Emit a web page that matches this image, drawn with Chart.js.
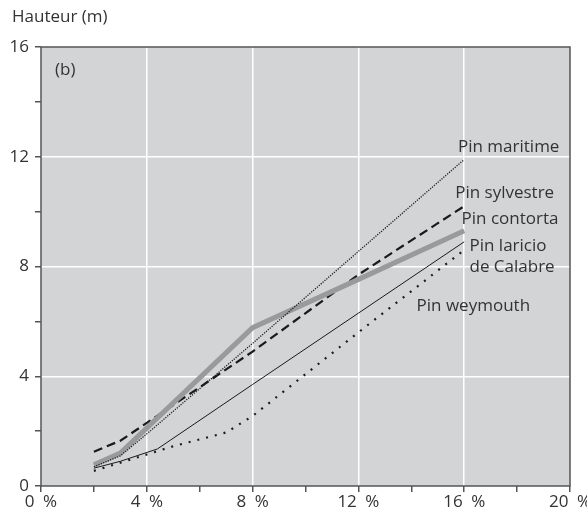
<!DOCTYPE html>
<html>
<head>
<meta charset="utf-8">
<script src="https://cdn.jsdelivr.net/npm/chart.js@4.4.1/dist/chart.umd.min.js"></script>
<style>
  html, body { margin: 0; padding: 0; background: #fff; }
  #wrap { width: 587px; height: 516px; position: relative; }
</style>
</head>
<body>
<div id="wrap"><canvas id="myChart"></canvas></div>
<script>
// Data block
const maritime  = [[2, 0.7], [3, 1.1], [4, 1.9], [8, 5.2], [12, 8.55], [16, 11.9]];
const sylvestre = [[2, 1.25], [3, 1.65], [4, 2.3], [8, 4.9], [12, 7.7], [16, 10.2]];
const contorta  = [[2, 0.77], [3, 1.2], [8, 5.77], [12, 7.53], [16, 9.3]];
const laricio   = [[2, 0.65], [3, 0.9], [4.4, 1.35], [8, 3.7], [12, 6.3], [16, 8.9]];
const weymouth  = [[2, 0.55], [4, 1.15], [5, 1.45], [7, 1.95], [8, 2.55], [12, 5.6], [16, 8.6]];

const xTicks = [0, 4, 8, 12, 16, 20];
const yTicks = [0, 4, 8, 12, 16];

const labelTexts = ["Pin maritime", "Pin sylvestre", "Pin contorta", "Pin laricio", "de Calabre", "Pin weymouth", "(b)"];
const labelX = [19.6, 19.4, 15.9, 16.2, 16.2, 14.2, 0.53];
const labelY = [12.35, 10.68, 9.73, 8.75, 7.98, 6.56, 15.16];
const labelAlign = ["right", "right", "left", "left", "left", "left", "left"];

const FONT = '"Open Sans", sans-serif';
const TXT = "#333";

function pts(arr) { return arr.map(p => ({ x: p[0], y: p[1] })); }

// Plugins
const frame = {
  id: 'frame',
  beforeDraw(chart) {
    const { ctx, chartArea: a } = chart;
    ctx.save();
    ctx.fillStyle = "#d3d4d6";
    ctx.fillRect(a.left, a.top, a.right - a.left, a.bottom - a.top);
    ctx.restore();
  },
  afterDraw(chart) {
    const { ctx, chartArea: a, scales } = chart;
    ctx.save();
    ctx.strokeStyle = "#555";
    ctx.lineWidth = 1.5;
    ctx.strokeRect(a.left, a.top, a.right - a.left, a.bottom - a.top);
    // line labels
    ctx.fillStyle = TXT;
    ctx.font = "17px " + FONT;
    ctx.textBaseline = "middle";
    labelTexts.forEach((t, i) => {
      ctx.textAlign = labelAlign[i];
      ctx.fillText(t, scales.x.getPixelForValue(labelX[i]), scales.y.getPixelForValue(labelY[i]));
    });
    // axis title
    ctx.textAlign = "left";
    ctx.fillText("Hauteur (m)", 12, 17);
    ctx.restore();
  }
};

const ds = (label, data, color, width, dash) => ({
  label: label,
  data: pts(data),
  borderColor: color,
  borderWidth: width,
  borderDash: dash,
  pointRadius: 0,
  tension: 0,
  fill: false
});

const config = {
  type: 'line',
  data: {
    datasets: [
      ds("Pin weymouth", weymouth, "#1a1a1a", 2.2, [2, 7]),
      ds("Pin laricio de Calabre", laricio, "#1a1a1a", 1, []),
      ds("Pin maritime", maritime, "#1a1a1a", 1.3, [1.2, 1.3]),
      ds("Pin contorta", contorta, "#999a9c", 5, []),
      ds("Pin sylvestre", sylvestre, "#1a1a1a", 2.2, [9, 5])
    ]
  },
  options: {
    responsive: false,
    animation: false,
    layout: { padding: { top: 47, right: 17, left: 0, bottom: 0 } },
    plugins: { legend: { display: false }, tooltip: { enabled: false } },
    scales: {
      x: {
        type: 'linear',
        min: 0, max: 20,
        afterBuildTicks: s => { s.ticks = [0, 2, 4, 6, 8, 10, 12, 14, 16, 18, 20].map(v => ({ value: v })); },
        afterFit: s => { s.height = 30; s.paddingLeft = 0; s.paddingRight = 0; },
        border: { display: false },
        grid: {
          color: c => (c.tick && xTicks.includes(c.tick.value) && c.tick.value > 0 && c.tick.value < 20) ? "#fff" : "transparent",
          lineWidth: 1.5,
          tickColor: "#555",
          tickLength: 6,
          drawOnChartArea: true
        },
        ticks: {
          color: TXT,
          padding: 0,
          maxRotation: 0,
          autoSkip: false,
          font: { family: FONT, size: 17 },
          callback: v => xTicks.includes(v) ? v + "\u2002%" : ""
        }
      },
      y: {
        min: 0, max: 16,
        afterBuildTicks: s => { s.ticks = [0, 2, 4, 6, 8, 10, 12, 14, 16].map(v => ({ value: v })); },
        afterFit: s => { s.width = 41; s.paddingTop = 0; s.paddingBottom = 0; },
        border: { display: false },
        grid: {
          color: c => (c.tick && yTicks.includes(c.tick.value) && c.tick.value > 0 && c.tick.value < 16) ? "#fff" : "transparent",
          lineWidth: 1.5,
          tickColor: "#555",
          tickLength: 6
        },
        ticks: {
          color: TXT,
          padding: 6,
          autoSkip: false,
          font: { family: FONT, size: 17 },
          callback: v => yTicks.includes(v) ? String(v) : ""
        }
      }
    }
  },
  plugins: [frame]
};

const cv = document.getElementById('myChart');
cv.width = 587; cv.height = 516;
const chart = new Chart(cv.getContext("2d"), config);
</script>
</body>
</html>
